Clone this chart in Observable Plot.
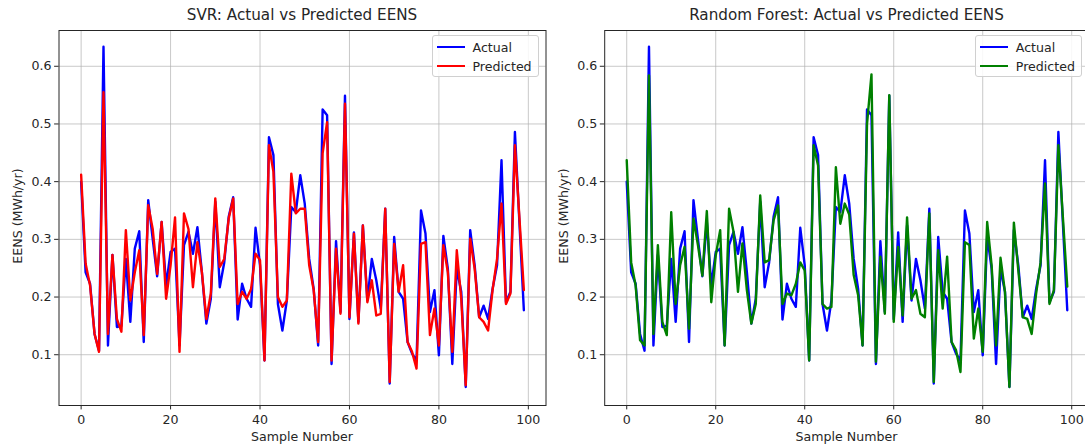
<!DOCTYPE html>
<html>
<head>
<meta charset="utf-8">
<script src="https://cdn.jsdelivr.net/npm/d3@7"></script>
<script src="https://cdn.jsdelivr.net/npm/@observablehq/plot@0.6"></script>
<style>
html,body{margin:0;padding:0;overflow:hidden;background:#fff;width:1085px;height:445px}
#wrap{position:relative;width:1085px;height:445px;overflow:hidden;font-family:"DejaVu Sans",sans-serif;color:#262626}
.panel{position:absolute;top:0}
.txt{position:absolute;white-space:nowrap;line-height:1.16;transform:translate(-50%,-50%)}
.legend{position:absolute;border:1px solid #d0d0d0;border-radius:3px;background:rgba(255,255,255,0.85);box-sizing:border-box}
.lrow{position:absolute;left:0;height:20px;display:flex;align-items:center;font-size:12.6px;white-space:nowrap}
.lsw{display:inline-block;width:28px;height:2.5px;margin-left:4px;margin-right:8px}
</style>
</head>
<body>
<div id="wrap"></div>
<script>
// ---------- data ----------
const actual = [0.400,0.243,0.223,0.136,0.107,0.634,0.116,0.273,0.148,0.150,
0.266,0.157,0.284,0.314,0.122,0.368,0.301,0.236,0.330,0.220,
0.278,0.284,0.116,0.290,0.313,0.275,0.321,0.243,0.154,0.197,
0.365,0.217,0.260,0.339,0.373,0.161,0.223,0.197,0.183,0.320,
0.255,0.090,0.477,0.446,0.188,0.142,0.194,0.356,0.347,0.411,
0.362,0.266,0.214,0.116,0.525,0.515,0.084,0.297,0.174,0.549,
0.162,0.312,0.157,0.324,0.194,0.266,0.229,0.180,0.353,0.050,
0.304,0.209,0.197,0.122,0.102,0.090,0.350,0.310,0.174,0.212,
0.099,0.306,0.249,0.084,0.249,0.209,0.044,0.316,0.255,0.165,
0.185,0.162,0.214,0.255,0.437,0.191,0.209,0.486,0.330,0.177];

const svrPred = [0.412,0.258,0.220,0.136,0.105,0.555,0.136,0.273,0.162,0.140,
0.316,0.194,0.243,0.281,0.134,0.359,0.318,0.240,0.330,0.197,
0.255,0.338,0.105,0.345,0.318,0.217,0.295,0.243,0.162,0.206,
0.371,0.252,0.266,0.336,0.371,0.188,0.209,0.197,0.214,0.275,
0.264,0.090,0.463,0.417,0.200,0.183,0.194,0.414,0.345,0.353,
0.353,0.255,0.212,0.122,0.449,0.503,0.090,0.284,0.171,0.535,
0.165,0.310,0.154,0.324,0.191,0.229,0.168,0.171,0.353,0.053,
0.292,0.209,0.255,0.122,0.105,0.076,0.292,0.295,0.134,0.180,
0.116,0.290,0.243,0.105,0.281,0.197,0.047,0.301,0.249,0.165,
0.157,0.142,0.212,0.266,0.362,0.188,0.206,0.463,0.338,0.212];

const rfPred = [0.437,0.260,0.220,0.125,0.116,0.584,0.136,0.290,0.157,0.134,
0.347,0.188,0.255,0.287,0.145,0.336,0.290,0.237,0.349,0.191,
0.272,0.316,0.116,0.353,0.313,0.209,0.293,0.212,0.154,0.188,
0.376,0.260,0.264,0.333,0.359,0.188,0.206,0.203,0.223,0.260,
0.246,0.090,0.463,0.428,0.188,0.180,0.183,0.425,0.327,0.362,
0.343,0.238,0.203,0.116,0.500,0.586,0.088,0.270,0.171,0.550,
0.157,0.287,0.168,0.338,0.197,0.212,0.171,0.165,0.345,0.053,
0.281,0.180,0.270,0.122,0.108,0.070,0.295,0.290,0.128,0.180,
0.105,0.330,0.255,0.116,0.268,0.209,0.044,0.329,0.246,0.165,
0.162,0.136,0.206,0.260,0.397,0.188,0.212,0.463,0.340,0.218];

const xTicks = [0, 20, 40, 60, 80, 100];
const yTicks = [0.1, 0.2, 0.3, 0.4, 0.5, 0.6];
const seriesNames = ["Actual", "Predicted"];
const titles = ["SVR: Actual vs Predicted EENS", "Random Forest: Actual vs Predicted EENS"];
const xLabel = "Sample Number";
const yLabel = "EENS (MWh/yr)";
const actualColor = "#0000ff";
const predColors = ["#ff0000", "#008000"];

// ---------- drawing ----------
const wrap = document.getElementById("wrap");
const font = '"DejaVu Sans", sans-serif';

function addText(str, x, y, size, rotate) {
  const d = document.createElement("div");
  d.className = "txt";
  d.textContent = str;
  d.style.left = x + "px";
  d.style.top = y + "px";
  d.style.fontSize = size + "px";
  if (rotate) d.style.transform = "translate(-50%,-50%) rotate(-90deg)";
  wrap.appendChild(d);
}

function panel(pred, predColor, title, left, width, mLeft, mRight) {
  const rowsA = actual.map((v, i) => ({i, v}));
  const rowsP = pred.map((v, i) => ({i, v}));
  const chart = Plot.plot({
    width: width,
    height: 445,
    marginLeft: mLeft,
    marginRight: mRight,
    marginTop: 30,
    marginBottom: 40,
    x: {domain: [-4.95, 103.95]},
    y: {domain: [0.012, 0.662]},
    style: {fontFamily: font, fontSize: "12.6px", color: "#262626", background: "transparent", overflow: "visible"},
    marks: [
      Plot.gridX(xTicks, {stroke: "#b0b0b0", strokeOpacity: 0.7, strokeWidth: 1}),
      Plot.gridY(yTicks, {stroke: "#b0b0b0", strokeOpacity: 0.7, strokeWidth: 1}),
      Plot.line(rowsA, {x: "i", y: "v", stroke: actualColor, strokeWidth: 2.4}),
      Plot.line(rowsP, {x: "i", y: "v", stroke: predColor, strokeWidth: 2.4}),
      Plot.axisX(xTicks, {tickSize: 4.4, tickPadding: 5, label: null, tickFormat: d3.format("d")}),
      Plot.axisY(yTicks, {tickSize: 4.4, tickPadding: 3, label: null, tickFormat: d3.format(".1f")}),
      Plot.frame({stroke: "#262626", strokeWidth: 1})
    ]
  });
  chart.classList.add("panel");
  chart.style.left = left + "px";
  wrap.appendChild(chart);

  const fL = left + mLeft, fR = left + width - mRight;
  const cx = (fL + fR) / 2;
  addText(title, cx, 16, 15.2);
  addText(xLabel, cx, 437, 12.6);
  addText(yLabel, fL - 40.4, 216, 12.6, true);

  // legend
  const lg = document.createElement("div");
  lg.className = "legend";
  const lw = 107, lh = 42;
  lg.style.left = (fR - 7 - lw) + "px";
  lg.style.top = "35px";
  lg.style.width = lw + "px";
  lg.style.height = lh + "px";
  [actualColor, predColor].forEach((c, k) => {
    const r = document.createElement("div");
    r.className = "lrow";
    r.style.top = (1 + k * 19) + "px";
    const sw = document.createElement("span");
    sw.className = "lsw";
    sw.style.background = c;
    const t = document.createElement("span");
    t.textContent = seriesNames[k];
    r.appendChild(sw);
    r.appendChild(t);
    lg.appendChild(r);
  });
  wrap.appendChild(lg);
}

panel(svrPred, predColors[0], titles[0], 0, 550, 58.5, 4.5);
panel(rfPred, predColors[1], titles[1], 560, 535, 44.2, 6.2);
</script>
</body>
</html>
